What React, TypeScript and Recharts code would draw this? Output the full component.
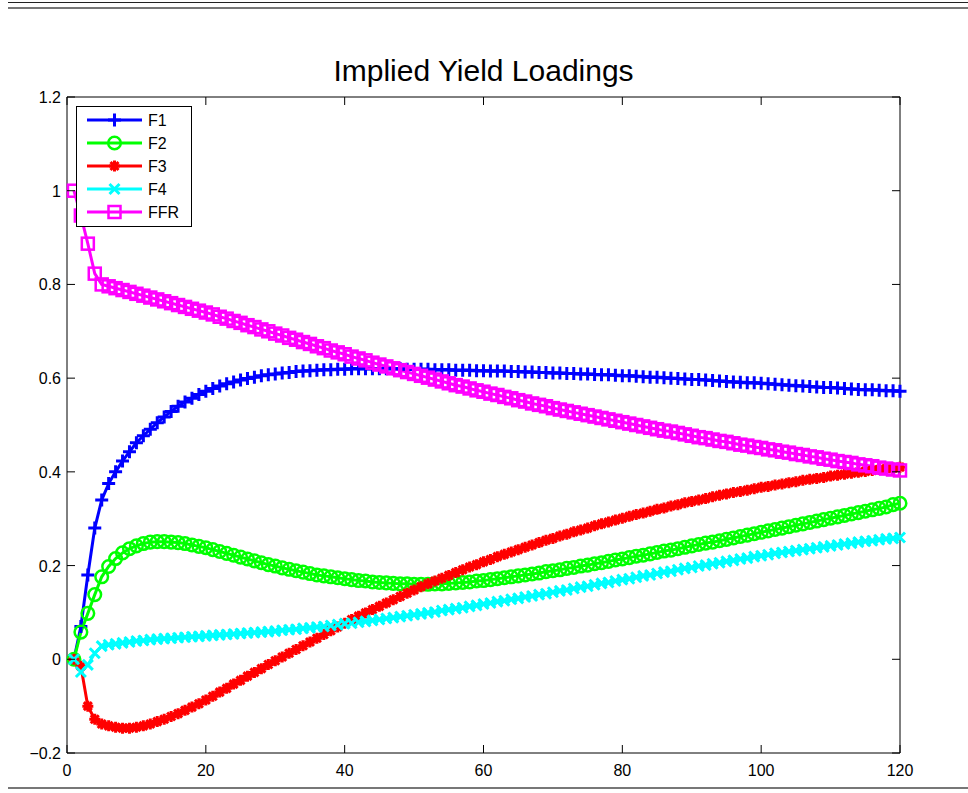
import React from 'react';
import { LineChart, Line, XAxis, YAxis, Legend, ReferenceArea } from 'recharts';

// loadings by horizon (months 1..120)
const f1 = [
  0.0, 0.07, 0.18, 0.28, 0.34, 0.375, 0.4, 0.423, 0.443, 0.462,
  0.477, 0.491, 0.505, 0.517, 0.529, 0.54, 0.549, 0.557, 0.565, 0.572,
  0.578, 0.583, 0.588, 0.592, 0.596, 0.599, 0.602, 0.605, 0.607, 0.609,
  0.611, 0.612, 0.614, 0.615, 0.616, 0.617, 0.618, 0.618, 0.619, 0.619,
  0.62, 0.62, 0.62, 0.62, 0.62, 0.62, 0.62, 0.62, 0.619, 0.619,
  0.619, 0.619, 0.618, 0.618, 0.618, 0.617, 0.617, 0.617, 0.616, 0.616,
  0.615, 0.615, 0.615, 0.614, 0.614, 0.613, 0.613, 0.612, 0.612, 0.611,
  0.611, 0.61, 0.61, 0.609, 0.609, 0.608, 0.607, 0.607, 0.606, 0.605,
  0.605, 0.604, 0.603, 0.602, 0.602, 0.601, 0.6, 0.599, 0.598, 0.597,
  0.597, 0.596, 0.595, 0.594, 0.593, 0.592, 0.591, 0.59, 0.59, 0.589,
  0.588, 0.587, 0.586, 0.585, 0.584, 0.583, 0.582, 0.581, 0.58, 0.58,
  0.579, 0.578, 0.577, 0.576, 0.575, 0.575, 0.574, 0.573, 0.573, 0.572,
];
const f2 = [
  0.0, 0.058, 0.098, 0.138, 0.176, 0.198, 0.215, 0.227, 0.236, 0.242,
  0.247, 0.25, 0.251, 0.251, 0.25, 0.249, 0.247, 0.244, 0.241, 0.238,
  0.234, 0.23, 0.226, 0.222, 0.218, 0.214, 0.21, 0.206, 0.202, 0.199,
  0.195, 0.192, 0.189, 0.186, 0.183, 0.18, 0.178, 0.176, 0.174, 0.172,
  0.17, 0.168, 0.167, 0.165, 0.164, 0.163, 0.162, 0.161, 0.161, 0.16,
  0.16, 0.16, 0.161, 0.161, 0.162, 0.163, 0.164, 0.165, 0.167, 0.168,
  0.17, 0.172, 0.174, 0.176, 0.178, 0.18, 0.182, 0.184, 0.187, 0.189,
  0.191, 0.194, 0.196, 0.199, 0.201, 0.204, 0.206, 0.209, 0.212, 0.214,
  0.217, 0.22, 0.222, 0.225, 0.228, 0.231, 0.233, 0.236, 0.239, 0.242,
  0.245, 0.248, 0.25, 0.253, 0.256, 0.259, 0.262, 0.265, 0.268, 0.271,
  0.274, 0.277, 0.28, 0.283, 0.286, 0.289, 0.292, 0.295, 0.298, 0.301,
  0.304, 0.307, 0.31, 0.313, 0.316, 0.319, 0.322, 0.325, 0.33, 0.333,
];
const f3 = [
  0.0, -0.015, -0.1, -0.128, -0.138, -0.142, -0.145, -0.147, -0.147, -0.145,
  -0.142, -0.138, -0.133, -0.128, -0.122, -0.116, -0.109, -0.102, -0.095, -0.087,
  -0.079, -0.07, -0.062, -0.053, -0.045, -0.036, -0.028, -0.02, -0.011, -0.003,
  0.005, 0.013, 0.021, 0.029, 0.037, 0.045, 0.053, 0.061, 0.069, 0.077,
  0.085, 0.092, 0.099, 0.106, 0.113, 0.12, 0.127, 0.134, 0.141, 0.148,
  0.155, 0.161, 0.167, 0.173, 0.179, 0.185, 0.191, 0.197, 0.202, 0.208,
  0.213, 0.219, 0.224, 0.229, 0.234, 0.239, 0.244, 0.249, 0.254, 0.258,
  0.263, 0.267, 0.272, 0.276, 0.28, 0.285, 0.289, 0.293, 0.297, 0.301,
  0.305, 0.309, 0.312, 0.316, 0.32, 0.323, 0.327, 0.33, 0.334, 0.337,
  0.34, 0.343, 0.347, 0.35, 0.353, 0.356, 0.358, 0.361, 0.364, 0.367,
  0.369, 0.372, 0.374, 0.377, 0.379, 0.382, 0.384, 0.386, 0.388, 0.391,
  0.393, 0.395, 0.397, 0.399, 0.401, 0.403, 0.405, 0.407, 0.408, 0.41,
];
const f4 = [
  0.0, -0.027, -0.012, 0.013, 0.028, 0.031, 0.033, 0.035, 0.037, 0.039,
  0.04, 0.042, 0.043, 0.044, 0.045, 0.046, 0.047, 0.048, 0.049, 0.05,
  0.051, 0.052, 0.053, 0.054, 0.055, 0.056, 0.057, 0.058, 0.059, 0.06,
  0.062, 0.063, 0.064, 0.066, 0.067, 0.069, 0.07, 0.072, 0.074, 0.076,
  0.077, 0.079, 0.081, 0.083, 0.085, 0.087, 0.089, 0.091, 0.093, 0.095,
  0.097, 0.099, 0.101, 0.104, 0.106, 0.108, 0.11, 0.113, 0.115, 0.118,
  0.12, 0.123, 0.125, 0.128, 0.13, 0.133, 0.135, 0.138, 0.14, 0.143,
  0.146, 0.148, 0.151, 0.154, 0.156, 0.159, 0.162, 0.164, 0.167, 0.17,
  0.172, 0.175, 0.178, 0.18, 0.183, 0.186, 0.188, 0.191, 0.194, 0.196,
  0.199, 0.201, 0.204, 0.206, 0.209, 0.211, 0.214, 0.216, 0.219, 0.221,
  0.223, 0.226, 0.228, 0.23, 0.232, 0.234, 0.236, 0.238, 0.24, 0.242,
  0.244, 0.246, 0.248, 0.25, 0.252, 0.253, 0.255, 0.257, 0.258, 0.26,
];
const ffr = [
  1.0, 0.947, 0.887, 0.823, 0.8, 0.796, 0.792, 0.788, 0.784, 0.78,
  0.776, 0.772, 0.768, 0.764, 0.76, 0.756, 0.752, 0.748, 0.744, 0.74,
  0.736, 0.731, 0.727, 0.722, 0.718, 0.713, 0.709, 0.704, 0.7, 0.695,
  0.691, 0.686, 0.682, 0.677, 0.673, 0.668, 0.664, 0.659, 0.655, 0.651,
  0.646, 0.642, 0.638, 0.633, 0.629, 0.625, 0.621, 0.617, 0.613, 0.609,
  0.605, 0.601, 0.597, 0.593, 0.589, 0.585, 0.582, 0.578, 0.574, 0.571,
  0.567, 0.564, 0.56, 0.557, 0.553, 0.55, 0.546, 0.543, 0.54, 0.536,
  0.533, 0.53, 0.527, 0.524, 0.521, 0.518, 0.515, 0.512, 0.509, 0.506,
  0.503, 0.5, 0.497, 0.494, 0.491, 0.488, 0.486, 0.483, 0.48, 0.477,
  0.474, 0.472, 0.469, 0.466, 0.464, 0.461, 0.458, 0.456, 0.453, 0.451,
  0.448, 0.446, 0.443, 0.441, 0.438, 0.436, 0.433, 0.431, 0.428, 0.426,
  0.423, 0.421, 0.419, 0.416, 0.414, 0.412, 0.409, 0.407, 0.405, 0.403,
];

const xTicks = [0, 20, 40, 60, 80, 100, 120];
const yTicks = [-0.2, 0, 0.2, 0.4, 0.6, 0.8, 1, 1.2];

const series = [
  { key: 'F1', color: '#0000ff', kind: 'plus' },
  { key: 'F2', color: '#00ff00', kind: 'circle' },
  { key: 'F3', color: '#ff0000', kind: 'star' },
  { key: 'F4', color: '#00ffff', kind: 'cross' },
  { key: 'FFR', color: '#ff00ff', kind: 'square' },
];

const data = f1.map((v, i) => ({ h: i + 1, F1: v, F2: f2[i], F3: f3[i], F4: f4[i], FFR: ffr[i] }));

const W = 968;
const H = 793;
const TOP = 97;
const BOTTOM = 753;
const LEFT = 67;
const RIGHT = 900;
const FONT = '"Liberation Sans", Arial, Helvetica, sans-serif';

function marker(kind: string, cx: number, cy: number, color: string, key: any) {
  if (cx == null || cy == null) return <g key={key} />;
  switch (kind) {
    case 'plus':
      return <path key={key} d={`M${cx - 6.5} ${cy}H${cx + 6.5}M${cx} ${cy - 6.5}V${cy + 6.5}`} stroke={color} strokeWidth={3} fill="none" />;
    case 'circle':
      return <circle key={key} cx={cx} cy={cy} r={6.3} stroke={color} strokeWidth={2.5} fill="none" />;
    case 'star': {
      const d = 4;
      return (
        <path key={key}
          d={`M${cx - 5.5} ${cy}H${cx + 5.5}M${cx} ${cy - 5.5}V${cy + 5.5}M${cx - d} ${cy - d}L${cx + d} ${cy + d}M${cx - d} ${cy + d}L${cx + d} ${cy - d}`}
          stroke={color} strokeWidth={3} fill="none" />
      );
    }
    case 'cross': {
      const d = 5;
      return <path key={key} d={`M${cx - d} ${cy - d}L${cx + d} ${cy + d}M${cx - d} ${cy + d}L${cx + d} ${cy - d}`} stroke={color} strokeWidth={3} fill="none" />;
    }
    default:
      return <rect key={key} x={cx - 6} y={cy - 6} width={12} height={12} stroke={color} strokeWidth={2.5} fill="none" />;
  }
}

const renderXTick = ({ x, payload }: any) => (
  <g key={`xt-${payload.value}`}>
    <line x1={x} x2={x} y1={BOTTOM} y2={BOTTOM - 8} stroke="#000" />
    <line x1={x} x2={x} y1={TOP} y2={TOP + 8} stroke="#000" />
    <text x={x} y={BOTTOM + 23} textAnchor="middle" fontSize={16} fontFamily={FONT} fill="#000">{payload.value}</text>
  </g>
);

const renderYTick = ({ y, payload }: any) => {
  const v = payload.value;
  const label = v < 0 ? '\u2212' + String(Math.abs(v)) : String(v);
  return (
    <g key={`yt-${v}`}>
      <line x1={LEFT} x2={LEFT + 8} y1={y} y2={y} stroke="#000" />
      <line x1={RIGHT - 8} x2={RIGHT} y1={y} y2={y} stroke="#000" />
      <text x={LEFT - 6} y={y + 6} textAnchor="end" fontSize={16} fontFamily={FONT} fill="#000">{label}</text>
    </g>
  );
};

const LegendBox = () => (
  <svg width={116} height={121} style={{ display: 'block' }}>
    <rect x={0.5} y={0.5} width={115} height={120} fill="#fff" stroke="#000" />
    {series.map((s, i) => {
      const y = 14 + i * 23;
      return (
        <g key={s.key}>
          <line x1={11} x2={66} y1={y} y2={y} stroke={s.color} strokeWidth={3} />
          {marker(s.kind, 38.5, y, s.color, 'm')}
          <text x={72} y={y + 6} fontSize={16} fontFamily={FONT} fill="#000">{s.key}</text>
        </g>
      );
    })}
  </svg>
);

export default function App() {
  return (
    <div style={{ position: 'absolute', left: 0, top: 0, width: W, height: H, background: '#fff', overflow: 'hidden' }}>
      <div style={{ position: 'absolute', left: 8, right: 0, top: 2, height: 1, background: '#222' }} />
      <div style={{ position: 'absolute', left: 8, right: 0, top: 7, height: 2, background: '#777' }} />
      <div style={{ position: 'absolute', left: 8, right: 0, top: 787, height: 2, background: '#777' }} />
      <div style={{ position: 'absolute', left: LEFT, width: RIGHT - LEFT, top: 51, textAlign: 'center', fontFamily: FONT, fontSize: 30, color: '#000', lineHeight: '40px' }}>
        Implied Yield Loadings
      </div>
      <LineChart width={W} height={H} data={data} margin={{ top: TOP, right: W - RIGHT, bottom: 0, left: 7 }}>
        <ReferenceArea x1={0} x2={120} y1={-0.2} y2={1.2} fill="none" stroke="#000" strokeWidth={1} ifOverflow="visible" />
        <XAxis type="number" dataKey="h" domain={[0, 120]} ticks={xTicks} height={H - BOTTOM} axisLine={false} tickLine={false} tick={renderXTick} interval={0} />
        <YAxis type="number" domain={[-0.2, 1.2]} ticks={yTicks} width={LEFT - 7} axisLine={false} tickLine={false} tick={renderYTick} interval={0} />
        <Legend layout="vertical" align="center" verticalAlign="middle" wrapperStyle={{ left: 76, top: 106, width: 116, height: 121 }} content={() => <LegendBox />} />
        {series.map((s) => (
          <Line key={s.key} type="linear" dataKey={s.key} stroke={s.color} strokeWidth={3}
            isAnimationActive={false}
            dot={(p: any) => marker(s.kind, p.cx, p.cy, s.color, `${s.key}-${p.index}`)}
            activeDot={false} />
        ))}
      </LineChart>
    </div>
  );
}
